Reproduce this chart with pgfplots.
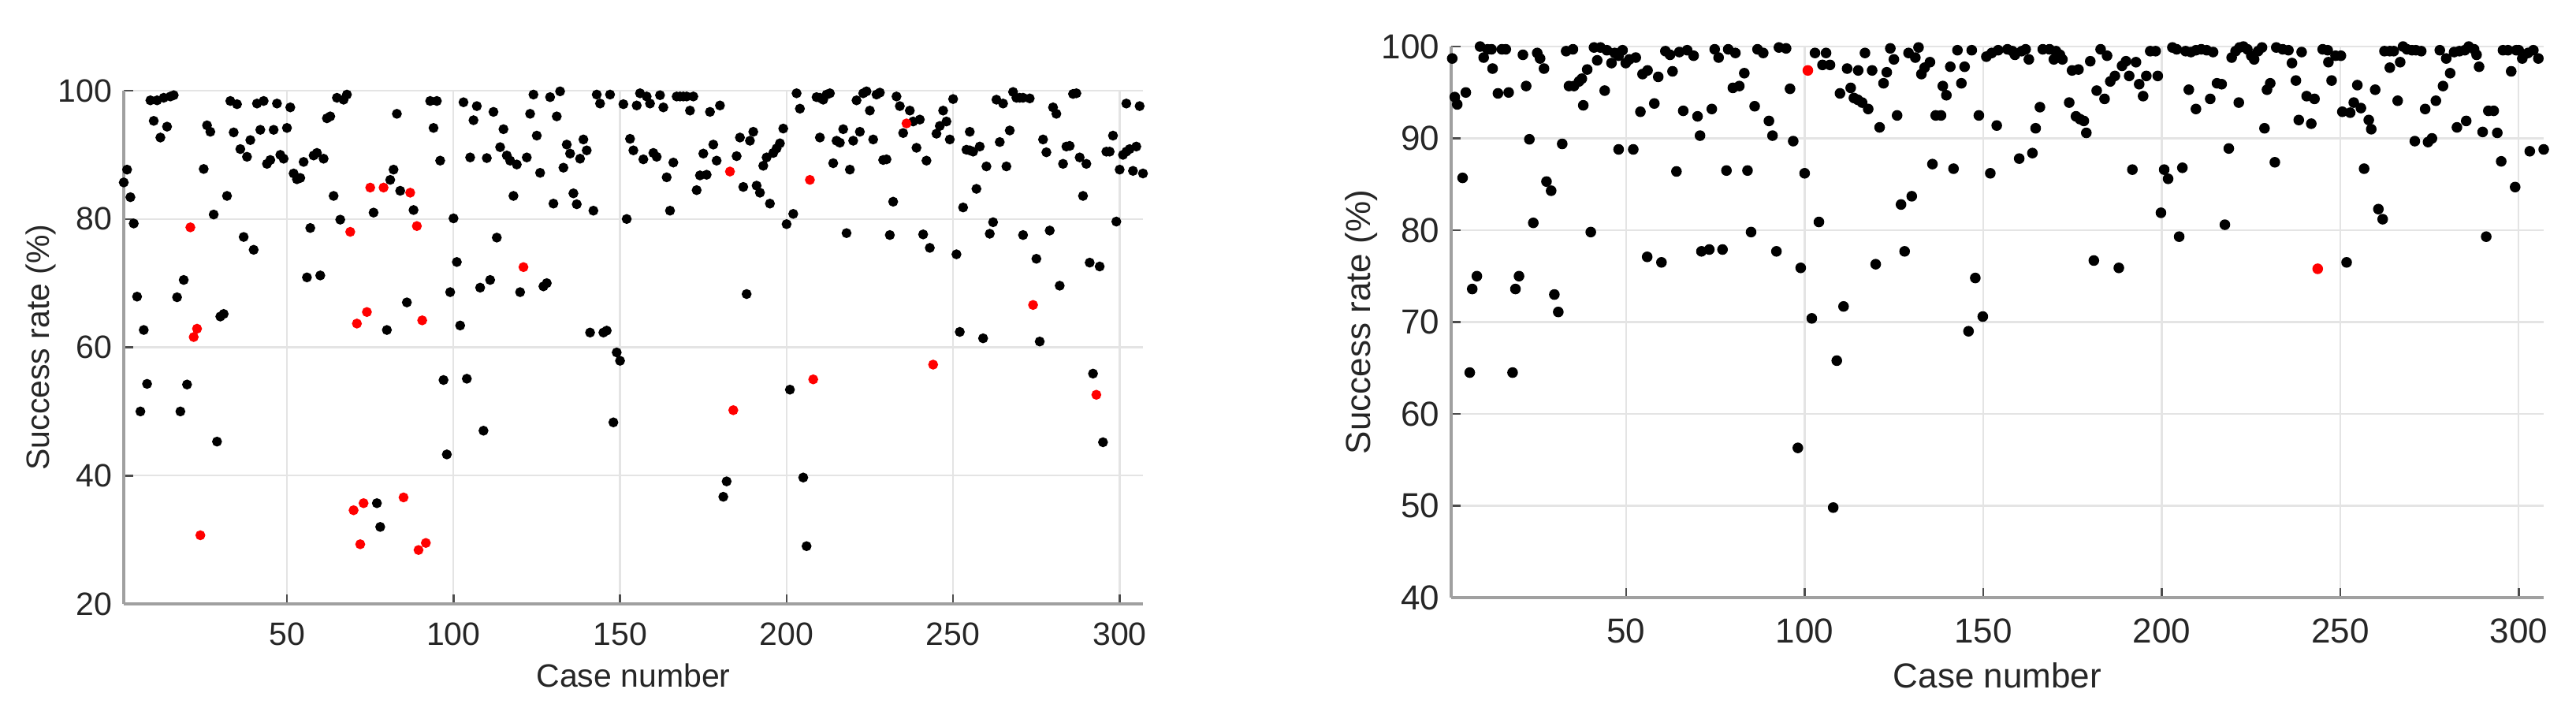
\documentclass[border=0pt]{standalone}
\usepackage{fontspec}
\setmainfont{Liberation Sans}
\usepackage{pgfplots}
\pgfplotsset{compat=1.18}
\definecolor{txt}{RGB}{38,38,38}
\definecolor{axl}{RGB}{160,160,160}
\definecolor{grd}{RGB}{228,228,228}
\definecolor{mred}{RGB}{255,0,0}
\pgfplotsset{
  mstyle/.style={
    scale only axis, xmin=1, xmax=307, clip=false,
    axis x line*=bottom, axis y line*=left,
    axis line style={axl, line width=0.7pt},
    grid=major, major grid style={grd, line width=0.45pt},
    tick align=inside, major tick length=2.4pt,
    tick style={black!70, line width=0.5pt},
    xtick={50,100,...,300},
    /pgf/number format/assume math mode=true,
    /pgf/number format/set thousands separator={},
    xticklabel style={anchor=center, text=txt},
    yticklabel style={anchor=east, inner sep=0pt, xshift=-2.8pt, text=txt},
    xlabel={Case number}, ylabel={Success rate (\%)},
    label style={text=txt},
  }
}
\begin{document}
\begin{tikzpicture}
\path[use as bounding box] (0,0) rectangle (653.6pt,182.2pt);
\begin{axis}[mstyle,
  at={(31.4pt,29pt)}, anchor=south west,
  width=258.6pt, height=130.2pt,
  ymin=20, ymax=100, ytick={20,40,...,100},
  font=\fontsize{8.2}{9.5}\selectfont,
  xticklabel style={yshift=-7.6pt},
  xlabel style={at={(axis description cs:0.5,0)}, anchor=center, yshift=-18.2pt},
  ylabel style={at={(axis description cs:-0.0812,0.5)}, anchor=center},
]
\addplot[only marks, mark=*, mark size=1.05pt, mark options={draw=black, fill=black}] coordinates {
(1,85.7)(2,87.7)(3,83.4)(4,79.3)(5,67.9)(6,50.0)(7,62.7)(8,54.3)(9,98.5)(10,95.3)(11,98.5)(12,92.7)(13,98.9)(14,94.4)(15,99.1)(16,99.3)(17,67.8)(18,50.0)(19,70.5)(20,54.2)(25,87.8)(26,94.6)(27,93.6)(28,80.7)(29,45.3)(30,64.8)(31,65.2)(32,83.6)(33,98.4)(34,93.5)(35,97.9)(36,90.9)(37,77.2)(38,89.7)(39,92.3)(40,75.2)(41,98.0)(42,93.9)(43,98.4)(44,88.6)(45,89.2)(46,93.9)(47,98.0)(48,90.0)(49,89.4)(50,94.2)(51,97.4)(52,87.1)(53,86.2)(54,86.4)(55,88.9)(56,70.9)(57,78.6)(58,89.9)(59,90.3)(60,71.2)(61,89.4)(62,95.7)(63,96.0)(64,83.6)(65,98.9)(66,79.9)(67,98.6)(68,99.4)(76,81.0)(77,35.7)(78,32.0)(80,62.7)(81,86.1)(82,87.7)(83,96.4)(84,84.4)(86,67.0)(88,81.4)(93,98.4)(94,94.2)(95,98.4)(96,89.1)(97,54.9)(98,43.3)(99,68.6)(100,80.1)(101,73.3)(102,63.4)(103,98.2)(104,55.1)(105,89.6)(106,95.4)(107,97.6)(108,69.3)(109,47.0)(110,89.5)(111,70.5)(112,96.7)(113,77.1)(114,91.2)(115,94.0)(116,89.9)(117,89.1)(118,83.6)(119,88.5)(120,68.6)(122,89.6)(123,96.4)(124,99.4)(125,93.0)(126,87.2)(127,69.5)(128,70.0)(129,99.0)(130,82.4)(131,96.0)(132,99.9)(133,88.0)(134,91.6)(135,90.2)(136,84.0)(137,82.3)(138,89.4)(139,92.4)(140,90.7)(141,62.3)(142,81.3)(143,99.4)(144,98.0)(145,62.3)(146,62.6)(147,99.4)(148,48.3)(149,59.2)(150,57.9)(151,97.9)(152,80.0)(153,92.5)(154,90.7)(155,97.7)(156,99.6)(157,89.3)(158,99.1)(159,98.0)(160,90.3)(161,89.7)(162,99.3)(163,97.4)(164,86.5)(165,81.3)(166,88.8)(167,99.1)(168,99.1)(169,99.1)(170,99.1)(171,96.9)(172,99.1)(173,84.5)(174,86.8)(175,90.2)(176,86.9)(177,96.7)(178,91.6)(179,89.1)(180,97.7)(181,36.7)(182,39.1)(185,89.8)(186,92.7)(187,85.0)(188,68.3)(189,92.2)(190,93.6)(191,85.2)(192,84.1)(193,88.3)(194,89.6)(195,82.4)(196,90.3)(197,91.0)(198,91.8)(199,94.1)(200,79.2)(201,53.4)(202,80.8)(203,99.6)(204,97.2)(205,39.7)(206,29.0)(209,99.0)(210,98.9)(210,92.7)(211,98.6)(212,99.4)(213,99.6)(214,88.7)(215,92.2)(216,91.9)(217,94.0)(218,77.8)(219,87.7)(220,92.2)(221,98.5)(222,93.6)(223,99.6)(224,99.9)(225,96.9)(226,92.4)(227,99.4)(228,99.7)(229,89.2)(230,89.3)(231,77.5)(232,82.7)(233,99.1)(234,97.6)(235,93.4)(237,96.9)(238,95.2)(239,91.1)(240,95.5)(241,77.6)(242,89.1)(243,75.5)(245,93.3)(246,94.5)(247,96.9)(248,95.2)(249,92.4)(250,98.7)(251,74.5)(252,62.4)(253,81.8)(254,90.8)(255,90.7)(255,93.6)(256,90.5)(257,84.7)(258,91.3)(259,61.4)(260,88.2)(261,77.7)(262,79.5)(263,98.6)(264,92.0)(265,98.0)(266,88.2)(267,93.8)(268,99.8)(269,98.9)(270,98.9)(271,77.5)(271,98.9)(273,98.8)(275,73.8)(276,60.9)(277,92.4)(278,90.4)(279,78.2)(280,97.4)(281,96.4)(282,69.6)(283,88.6)(284,91.3)(285,91.4)(286,99.5)(287,99.6)(288,89.6)(289,83.6)(290,88.6)(291,73.2)(292,55.9)(294,72.6)(295,45.2)(296,90.5)(297,90.5)(298,93.0)(299,79.6)(300,87.7)(301,90.0)(302,90.5)(302,98.0)(303,90.9)(304,87.5)(305,91.3)(306,97.6)(307,87.1)
};
\addplot[only marks, mark=*, mark size=1.05pt, mark options={draw=mred, fill=mred}] coordinates {
(21,78.7)(22,61.6)(23,62.9)(24,30.7)(69,78.0)(70,34.6)(71,63.7)(72,29.3)(73,35.7)(74,65.5)(75,84.9)(79,84.9)(85,36.6)(87,84.1)(89,78.9)(89.5,28.4)(90.6,64.2)(91.7,29.5)(121,72.5)(183,87.4)(184,50.2)(207,86.1)(208,55.0)(236,94.9)(244,57.3)(274,66.6)(293,52.6)
};
\end{axis}
\begin{axis}[mstyle,
  at={(368.2pt,30.6pt)}, anchor=south west,
  width=277.2pt, height=139.8pt,
  ymin=40, ymax=100, ytick={40,50,...,100},
  font=\fontsize{8.8}{10}\selectfont,
  xticklabel style={yshift=-8.4pt},
  xlabel style={at={(axis description cs:0.5,0)}, anchor=center, yshift=-19.8pt},
  ylabel style={at={(axis description cs:-0.0823,0.5)}, anchor=center},
]
\addplot[only marks, mark=*, mark size=1.15pt, mark options={draw=black, fill=black}] coordinates {
(1.3,98.7)(2.0,94.5)(2.7,93.7)(4.2,85.7)(5.1,95.0)(6.2,64.5)(6.9,73.6)(8.2,75.0)(9.1,100.0)(10.1,98.8)(11.2,99.7)(12.3,99.7)(12.6,97.6)(14.1,94.9)(15.2,99.7)(16.3,99.7)(17.1,95.0)(18.2,64.5)(19.0,73.6)(20.0,75.0)(21.1,99.1)(22.0,95.7)(22.9,89.9)(24.0,80.8)(25.1,99.3)(25.9,98.7)(27.0,97.6)(27.7,85.3)(29.0,84.3)(29.9,73.0)(31.0,71.1)(32.1,89.4)(33.2,99.5)(34.0,95.7)(35.1,99.7)(35.4,95.7)(36.8,96.2)(37.6,96.5)(38.0,93.6)(39.1,97.5)(40.1,79.8)(41.0,99.9)(41.9,98.5)(42.8,99.9)(44.0,95.2)(44.6,99.6)(45.9,98.2)(46.8,99.3)(47.9,99.0)(47.9,88.8)(49.0,99.6)(49.9,98.2)(50.9,98.6)(52.0,88.8)(52.7,98.8)(54.0,92.9)(54.6,97.0)(55.9,77.1)(56.0,97.4)(57.9,93.8)(59.0,96.7)(59.9,76.5)(61.0,99.5)(62.3,99.1)(63.0,97.3)(64.1,86.4)(64.9,99.4)(66.0,93.0)(67.1,99.6)(68.9,99.0)(70.0,92.4)(70.7,90.3)(71.1,77.7)(73.3,77.9)(74.0,93.2)(74.8,99.7)(75.9,98.8)(77.0,77.9)(78.1,86.5)(78.6,99.7)(79.9,95.5)(80.6,99.3)(81.7,95.7)(83.1,97.1)(84.0,86.5)(85.0,79.8)(86.0,93.5)(86.8,99.7)(88.4,99.3)(90.0,91.9)(91.0,90.3)(92.1,77.7)(92.8,99.9)(94.8,99.8)(95.9,95.4)(96.8,89.7)(98.1,56.3)(98.9,75.9)(100.0,86.2)(102.0,70.4)(102.9,99.3)(104.0,80.9)(105.0,98.0)(106.0,99.3)(107.1,98.0)(108.0,49.8)(109.0,65.8)(109.9,94.9)(110.9,71.7)(111.9,97.6)(112.9,95.5)(113.8,94.4)(114.9,94.2)(115.0,97.4)(116.1,93.9)(116.9,99.3)(117.8,93.2)(118.9,97.4)(119.9,76.3)(121.0,91.2)(122.1,96.0)(123.0,97.2)(124.0,99.8)(125.0,98.6)(125.9,92.5)(127.0,82.8)(128.0,77.7)(129.1,99.3)(130.0,83.7)(131.0,98.8)(131.9,99.9)(132.7,97.0)(133.6,97.7)(135.1,98.3)(135.8,87.2)(136.7,92.5)(138.2,92.5)(138.7,95.7)(139.7,94.7)(140.8,97.8)(141.7,86.7)(142.8,99.6)(143.9,96.0)(144.8,97.8)(145.9,69.0)(146.8,99.6)(147.8,74.8)(148.8,92.5)(149.9,70.6)(150.9,98.9)(152.0,86.2)(152.4,99.3)(153.8,91.4)(154.2,99.6)(156.8,99.7)(158.2,99.5)(158.9,99.1)(160.1,87.8)(160.8,99.5)(161.9,99.7)(162.8,98.6)(163.8,88.4)(164.7,91.1)(165.9,93.4)(166.7,99.7)(168.6,99.7)(169.8,98.6)(170.4,99.5)(171.5,99.1)(172.2,98.6)(174.1,93.9)(174.9,97.4)(176.0,92.4)(176.7,97.5)(177.1,92.1)(178.2,91.9)(178.9,90.6)(180.0,98.4)(181.0,76.7)(181.8,95.2)(182.9,99.7)(184.0,94.3)(184.7,99.0)(185.6,96.2)(186.9,96.8)(188.0,75.9)(188.9,97.9)(190.0,98.4)(190.9,96.8)(191.8,86.6)(192.8,98.3)(193.7,95.9)(194.8,94.6)(195.7,96.8)(196.8,99.5)(198.3,99.5)(198.9,96.8)(199.8,81.9)(200.7,86.6)(201.8,85.6)(203.0,99.9)(204.2,99.7)(204.9,79.3)(205.8,86.8)(206.7,99.5)(207.6,95.3)(208.2,99.4)(209.6,99.6)(209.6,93.2)(211.1,99.7)(212.6,99.6)(213.6,94.3)(214.4,99.4)(215.5,96.0)(216.8,95.9)(217.7,80.6)(218.8,88.9)(219.6,98.8)(220.7,99.5)(221.6,93.9)(221.8,99.9)(222.9,100.0)(224.0,99.7)(225.1,99.0)(225.9,98.6)(227.0,99.5)(228.1,99.9)(228.8,91.1)(229.5,95.3)(230.4,96.0)(231.7,87.4)(232.1,99.9)(233.9,99.7)(235.5,99.6)(236.5,98.2)(237.6,96.3)(238.4,92.0)(239.2,99.4)(240.6,94.6)(241.9,91.6)(242.8,94.3)(245.1,99.7)(246.5,99.6)(246.7,98.3)(247.6,96.3)(248.7,99.0)(250.2,99.0)(250.6,92.9)(251.8,76.5)(252.8,92.8)(253.8,93.9)(254.8,95.8)(255.8,93.3)(256.7,86.7)(258.0,92.0)(258.7,91.0)(259.8,95.3)(260.7,82.3)(261.9,81.2)(262.4,99.5)(263.9,99.5)(263.9,97.7)(265.0,99.5)(266.1,94.1)(266.8,98.3)(267.6,100.0)(268.7,99.7)(270.1,99.6)(270.9,89.7)(271.2,99.6)(272.7,99.5)(273.8,93.2)(274.6,89.6)(275.7,90.0)(276.8,94.1)(277.9,99.6)(278.8,95.7)(279.7,98.7)(280.8,97.1)(281.9,99.4)(282.7,91.2)(283.4,99.5)(284.9,99.6)(285.3,91.9)(286.0,100.0)(287.5,99.7)(288.2,99.1)(288.9,97.8)(289.9,90.7)(290.9,79.3)(291.5,93.0)(293.0,93.0)(294.0,90.6)(295.1,87.5)(295.6,99.6)(297.0,99.6)(297.9,97.3)(299.0,84.7)(299.3,99.6)(300.0,99.6)(301.0,98.7)(302.6,99.3)(303.1,88.6)(304.1,99.6)(305.5,98.7)(307.0,88.8)
};
\addplot[only marks, mark=*, mark size=1.15pt, mark options={draw=mred, fill=mred}] coordinates {
(100.9,97.4)(243.7,75.8)
};
\end{axis}
\end{tikzpicture}
\end{document}
